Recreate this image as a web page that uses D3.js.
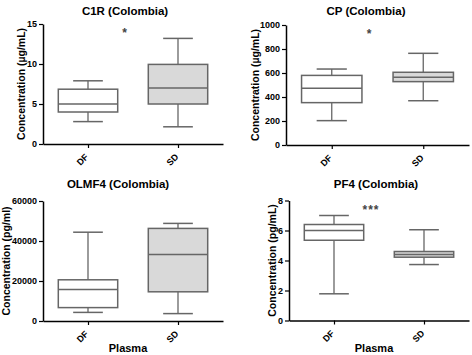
<!DOCTYPE html>
<html>
<head>
<meta charset="utf-8">
<script src="https://cdn.jsdelivr.net/npm/d3@7"></script>
<style>
  body { margin: 0; background: #fff; }
  svg { display: block; font-family: "Liberation Sans", Arial, sans-serif; }
</style>
</head>
<body>
<div id="chart"></div>
<script>
const width = 472,
  height = 355;

const categories = ["DF", "SD"];

// [min, q1, median, q3, max] for DF and SD
const c1rStats = [[2.8, 4.0, 5.0, 6.85, 7.9], [2.15, 5.0, 7.0, 9.95, 13.2]];
const cpStats = [[203, 353, 472, 580, 633], [369, 528, 564, 606, 764]];
const olmf4Stats = [[4300, 6700, 15800, 20600, 44400], [3700, 14600, 33300, 46300, 48800]];
const pf4Stats = [[1.78, 5.35, 6.0, 6.4, 7.0], [3.73, 4.22, 4.4, 4.6, 6.05]];

const c1rTicks = [0, 5, 10, 15];
const cpTicks = [0, 200, 400, 600, 800, 1000];
const olmf4Ticks = [0, 20000, 40000, 60000];
const pf4Ticks = [0, 2, 4, 6, 8];

const panels = [
  { title: "C1R (Colombia)", ylabel: "Concentration (µg/mL)", stats: c1rStats, ticks: c1rTicks,
    sig: "*", x0: 43, x1: 223, top: 24, bottom: 144, titleX: 125, titleY: 11, labX: 21, xlabel: "" },
  { title: "CP (Colombia)", ylabel: "Concentration (µg/mL)", stats: cpStats, ticks: cpTicks,
    sig: "*", x0: 286, x1: 469, top: 25, bottom: 145, titleX: 366, titleY: 11, labX: 255, xlabel: "" },
  { title: "OLMF4 (Colombia)", ylabel: "Concentration (pg/ml)", stats: olmf4Stats, ticks: olmf4Ticks,
    sig: "", x0: 43, x1: 223, top: 201, bottom: 321, titleX: 118, titleY: 184, labX: 6, xlabel: "Plasma" },
  { title: "PF4 (Colombia)", ylabel: "Concentration (pg/mL)", stats: pf4Stats, ticks: pf4Ticks,
    sig: "***", x0: 289, x1: 469, top: 200.5, bottom: 320.5, titleX: 376, titleY: 184, labX: 272, xlabel: "Plasma" }
];

const svg = d3.select("#chart")
  .append("svg")
  .attr("width", width)
  .attr("height", height);

panels.forEach(p => {
  const g = svg.append("g");

  const y = d3.scaleLinear()
    .domain([0, d3.max(p.ticks)])
    .range([p.bottom, p.top]);

  const x = d3.scalePoint()
    .domain(categories)
    .range([p.x0, p.x1])
    .padding(0.5);

  const boxW = x.step() * 0.66;

  // title
  g.append("text")
    .attr("x", p.titleX)
    .attr("y", p.titleY)
    .attr("dy", "0.35em")
    .attr("text-anchor", "middle")
    .attr("font-weight", "bold")
    .attr("font-size", 11.5)
    .text(p.title);

  // y axis
  const yAxis = g.append("g")
    .attr("transform", `translate(${p.x0},0)`)
    .call(d3.axisLeft(y).tickValues(p.ticks).tickFormat(d3.format("d"))
      .tickSize(4).tickPadding(2).tickSizeOuter(0));
  yAxis.select(".domain").attr("stroke", "#000").attr("stroke-width", 1.5);
  yAxis.selectAll(".tick line").attr("stroke", "#000").attr("stroke-width", 1.2);
  yAxis.selectAll(".tick text")
    .attr("font-size", 9)
    .attr("font-weight", "bold")
    .attr("font-family", "Liberation Sans, Arial, sans-serif")
    .attr("fill", "#000");

  // x axis, labels turned 45 degrees
  const xAxis = g.append("g")
    .attr("transform", `translate(0,${p.bottom})`)
    .call(d3.axisBottom(x).tickSize(4).tickSizeOuter(0));
  xAxis.select(".domain").attr("stroke", "#000").attr("stroke-width", 1.5);
  xAxis.selectAll(".tick line").attr("stroke", "#000").attr("stroke-width", 1.2);
  xAxis.selectAll(".tick text")
    .attr("x", null)
    .attr("y", null)
    .attr("dy", null)
    .attr("font-size", 9)
    .attr("font-weight", "bold")
    .attr("font-family", "Liberation Sans, Arial, sans-serif")
    .attr("fill", "#000")
    .attr("text-anchor", "end")
    .attr("transform", "translate(0.5,13.5) rotate(-45)");

  // y label
  g.append("text")
    .attr("transform", `translate(${p.labX},${(p.top + p.bottom) / 2}) rotate(-90)`)
    .attr("text-anchor", "middle")
    .attr("dy", "0.35em")
    .attr("font-weight", "bold")
    .attr("font-size", 10.5)
    .text(p.ylabel);

  if (p.xlabel) {
    g.append("text")
      .attr("x", (p.x0 + p.x1) / 2 - 5)
      .attr("y", 352)
      .attr("text-anchor", "middle")
      .attr("font-weight", "bold")
      .attr("font-size", 11)
      .text(p.xlabel);
  }

  // boxes
  const boxes = g.selectAll("g.box")
    .data(p.stats)
    .join("g")
    .attr("class", "box")
    .attr("transform", (d, j) => `translate(${x(categories[j])},0)`);

  boxes.append("line")
    .attr("y1", d => y(d[0]))
    .attr("y2", d => y(d[4]))
    .attr("stroke", "#666")
    .attr("stroke-width", 1.3);

  boxes.append("rect")
    .attr("x", -boxW / 2)
    .attr("width", boxW)
    .attr("y", d => y(d[3]))
    .attr("height", d => y(d[1]) - y(d[3]))
    .attr("fill", (d, j) => j === 0 ? "#fff" : "#d9d9d9")
    .attr("stroke", "#666")
    .attr("stroke-width", 1.5);

  boxes.selectAll("line.cap")
    .data(d => [d[0], d[2], d[4]])
    .join("line")
    .attr("class", "cap")
    .attr("x1", (v, k) => k === 1 ? -boxW / 2 : -boxW / 4)
    .attr("x2", (v, k) => k === 1 ? boxW / 2 : boxW / 4)
    .attr("y1", v => y(v))
    .attr("y2", v => y(v))
    .attr("stroke", "#666")
    .attr("stroke-width", 1.5);

  // significance marker
  if (p.sig) {
    g.append("text")
      .attr("x", (x("DF") + x("SD")) / 2 - 8)
      .attr("y", p.top + 13)
      .attr("text-anchor", "middle")
      .attr("font-weight", "bold")
      .attr("font-size", 12)
      .attr("letter-spacing", 1)
      .attr("fill", "#444")
      .text(p.sig);
  }
});
</script>
</body>
</html>
